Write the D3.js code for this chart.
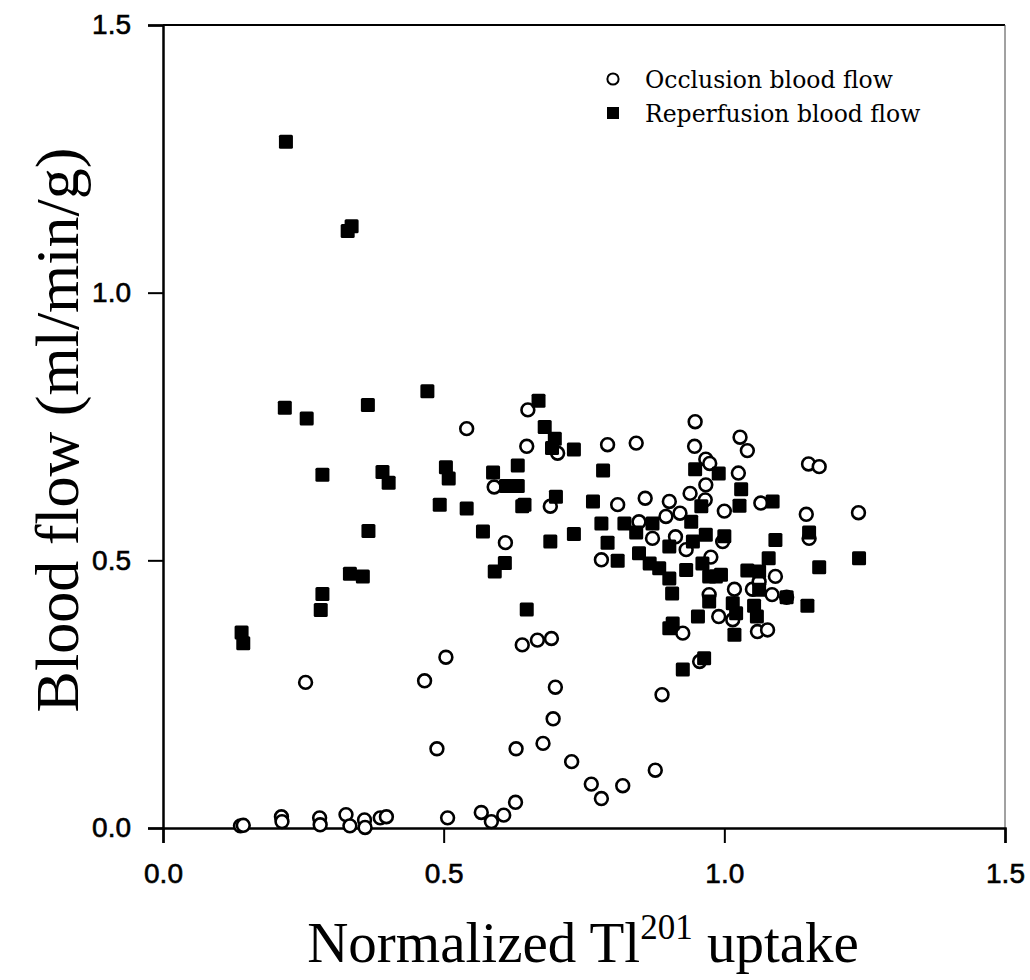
<!DOCTYPE html>
<html>
<head>
    <title>Blood flow vs Normalized Tl201 uptake</title>
    <script src="https://d3js.org/d3.v7.min.js"></script>
    <style>
        body {
            margin: 0;
            padding: 0;
            background-color: #ffffff;
        }
    </style>
</head>
<body>
    <div id="chart"></div>

    <script>
        // axis ticks
        const xTicks = [0.0, 0.5, 1.0, 1.5];
        const yTicks = [0.0, 0.5, 1.0, 1.5];

        const seriesNames = ["Occlusion blood flow", "Reperfusion blood flow"];

        // Occlusion blood flow (open circles): [uptake, flow]
        const occlusion = [
            [0.138, 0.004], [0.143, 0.005], [0.211, 0.021], [0.212, 0.012],
            [0.279, 0.019], [0.280, 0.006], [0.326, 0.025], [0.333, 0.004],
            [0.359, 0.015], [0.360, 0.001], [0.387, 0.019], [0.398, 0.021],
            [0.507, 0.019], [0.567, 0.029], [0.585, 0.012], [0.607, 0.024],
            [0.628, 0.048], [0.254, 0.272], [0.466, 0.275], [0.504, 0.319],
            [0.488, 0.148], [0.629, 0.148], [0.677, 0.158], [0.728, 0.124],
            [0.763, 0.082], [0.781, 0.055], [0.819, 0.079], [0.877, 0.108],
            [0.889, 0.249], [0.695, 0.204], [0.699, 0.263], [0.640, 0.342],
            [0.667, 0.351], [0.692, 0.354], [0.926, 0.364], [0.956, 0.311],
            [0.990, 0.395], [1.015, 0.389], [0.973, 0.436], [1.018, 0.446],
            [1.050, 0.446], [1.062, 0.460], [1.085, 0.436], [1.091, 0.470],
            [1.111, 0.431], [1.059, 0.367], [1.077, 0.370], [0.976, 0.506],
            [0.781, 0.501], [0.610, 0.533], [0.872, 0.541], [0.913, 0.544],
            [0.932, 0.520], [0.997, 0.535], [1.151, 0.541], [0.848, 0.572],
            [0.896, 0.582], [0.921, 0.588], [1.000, 0.592], [1.146, 0.586],
            [1.239, 0.589], [0.590, 0.637], [0.690, 0.601], [0.810, 0.604],
            [0.859, 0.616], [0.902, 0.610], [0.939, 0.625], [0.966, 0.613],
            [0.967, 0.641], [1.065, 0.607], [1.025, 0.663], [0.967, 0.689],
            [0.974, 0.681], [1.150, 0.680], [1.169, 0.675], [0.541, 0.746],
            [0.650, 0.781], [0.648, 0.713], [0.703, 0.700], [0.792, 0.716],
            [0.843, 0.719], [0.948, 0.759], [0.947, 0.713], [1.028, 0.730],
            [1.041, 0.705]
        ];

        // Reperfusion blood flow (filled squares): [uptake, flow]
        const reperfusion = [
            [0.140, 0.365], [0.143, 0.345], [0.219, 1.282], [0.217, 0.785],
            [0.256, 0.765], [0.284, 0.660], [0.284, 0.437], [0.281, 0.407],
            [0.329, 1.115], [0.336, 1.124], [0.333, 0.475], [0.356, 0.470],
            [0.365, 0.790], [0.366, 0.555], [0.391, 0.665], [0.402, 0.645],
            [0.471, 0.816], [0.493, 0.604], [0.504, 0.674], [0.509, 0.653],
            [0.541, 0.597], [0.570, 0.554], [0.588, 0.664], [0.591, 0.479],
            [0.609, 0.495], [0.611, 0.639], [0.632, 0.639], [0.632, 0.677],
            [0.640, 0.601], [0.644, 0.604], [0.648, 0.408], [0.669, 0.798],
            [0.680, 0.749], [0.698, 0.727], [0.693, 0.710], [0.690, 0.535],
            [0.700, 0.619], [0.732, 0.707], [0.732, 0.549], [0.766, 0.610],
            [0.784, 0.668], [0.781, 0.569], [0.792, 0.533], [0.810, 0.499],
            [0.822, 0.569], [0.843, 0.552], [0.848, 0.513], [0.867, 0.494],
            [0.872, 0.569], [0.884, 0.485], [0.902, 0.466], [0.902, 0.526],
            [0.907, 0.438], [0.908, 0.382], [0.902, 0.373], [0.926, 0.296],
            [0.964, 0.317], [0.932, 0.482], [0.941, 0.572], [0.944, 0.535],
            [0.948, 0.670], [0.959, 0.601], [0.961, 0.494], [0.967, 0.548],
            [0.973, 0.470], [0.973, 0.423], [0.953, 0.395], [0.985, 0.470],
            [0.994, 0.473], [0.990, 0.662], [1.000, 0.545], [1.015, 0.420],
            [1.018, 0.361], [1.021, 0.401], [1.027, 0.602], [1.030, 0.633],
            [1.041, 0.481], [1.062, 0.479], [1.062, 0.445], [1.053, 0.415],
            [1.058, 0.395], [1.079, 0.504], [1.086, 0.610], [1.091, 0.538],
            [1.111, 0.431], [1.148, 0.415], [1.151, 0.552], [1.169, 0.487],
            [1.240, 0.504]
        ];

        const W = 1030, H = 980;
        const plot = {left: 163, right: 1005, top: 25, bottom: 828};
        const tickFont = "'Liberation Sans', Arial, sans-serif";
        const serifFont = "'Liberation Serif', 'Times New Roman', serif";

        const svg = d3.select("#chart")
            .append("svg")
            .attr("width", W)
            .attr("height", H);

        const x = d3.scaleLinear()
            .domain([0, 1.5])
            .range([plot.left, plot.right]);

        const y = d3.scaleLinear()
            .domain([0, 1.5])
            .range([plot.bottom, plot.top]);

        // frame: top and right lines
        svg.append("line")
            .attr("x1", plot.left).attr("x2", plot.right)
            .attr("y1", plot.top).attr("y2", plot.top)
            .attr("stroke", "#000").attr("stroke-width", 2);
        svg.append("line")
            .attr("x1", plot.right).attr("x2", plot.right)
            .attr("y1", plot.top).attr("y2", plot.bottom)
            .attr("stroke", "#444").attr("stroke-width", 1);

        // x axis
        const xAxis = svg.append("g")
            .attr("transform", "translate(0," + plot.bottom + ")")
            .call(d3.axisBottom(x).tickValues(xTicks).tickSize(15).tickFormat(d3.format(".1f")));
        xAxis.select(".domain").attr("stroke", "#000").attr("stroke-width", 2.5);
        xAxis.selectAll(".tick line").attr("stroke-width", 2);
        xAxis.selectAll("text")
            .style("font-family", tickFont)
            .style("font-size", "28px")
            .attr("fill", "#000")
            .attr("stroke", "#000")
            .attr("stroke-width", 0.6)
            .attr("y", 35)
            .attr("dy", "0.71em");

        // y axis
        const yAxis = svg.append("g")
            .attr("transform", "translate(" + plot.left + ",0)")
            .call(d3.axisLeft(y).tickValues(yTicks).tickSize(15).tickFormat(d3.format(".1f")));
        yAxis.select(".domain").attr("stroke", "#000").attr("stroke-width", 2.5);
        yAxis.selectAll(".tick line").attr("stroke-width", 2);
        yAxis.selectAll("text")
            .style("font-family", tickFont)
            .style("font-size", "28px")
            .attr("fill", "#000")
            .attr("stroke", "#000")
            .attr("stroke-width", 0.6)
            .attr("x", -32);

        // points
        svg.append("g")
            .selectAll("circle")
            .data(occlusion)
            .enter().append("circle")
            .attr("cx", d => x(d[0]))
            .attr("cy", d => y(d[1]))
            .attr("r", 6.4)
            .attr("fill", "#fff")
            .attr("stroke", "#000")
            .attr("stroke-width", 2.6);

        const sq = 14;
        svg.append("g")
            .selectAll("rect")
            .data(reperfusion)
            .enter().append("rect")
            .attr("x", d => x(d[0]) - sq / 2)
            .attr("y", d => y(d[1]) - sq / 2)
            .attr("width", sq)
            .attr("height", sq)
            .attr("rx", 1.5)
            .attr("fill", "#000");

        // legend
        const legend = svg.append("g");
        legend.append("circle")
            .attr("cx", 613).attr("cy", 79).attr("r", 5.6)
            .attr("fill", "#fff").attr("stroke", "#000").attr("stroke-width", 2);
        legend.append("rect")
            .attr("x", 613 - 6).attr("y", 113 - 6).attr("width", 12).attr("height", 12)
            .attr("fill", "#000");
        legend.selectAll("text")
            .data(seriesNames)
            .enter().append("text")
            .attr("x", 645)
            .attr("y", (d, i) => 88 + i * 34)
            .style("font-family", "'DejaVu Serif', serif")
            .style("font-size", "23.5px")
            .attr("fill", "#000")
            .text(d => d);

        // axis titles
        const xt = svg.append("text")
            .attr("x", 583)
            .attr("y", 962)
            .attr("text-anchor", "middle")
            .style("font-family", serifFont)
            .style("font-size", "57px");
        xt.append("tspan").text("Normalized Tl");
        xt.append("tspan").attr("dy", -23).style("font-size", "35px").text("201");
        xt.append("tspan").attr("dy", 23).text(" uptake");

        svg.append("text")
            .attr("transform", "translate(78,430) rotate(-90)")
            .attr("text-anchor", "middle")
            .style("font-family", serifFont)
            .style("font-size", "62px")
            .text("Blood flow (ml/min/g)");
    </script>
</body>
</html>
